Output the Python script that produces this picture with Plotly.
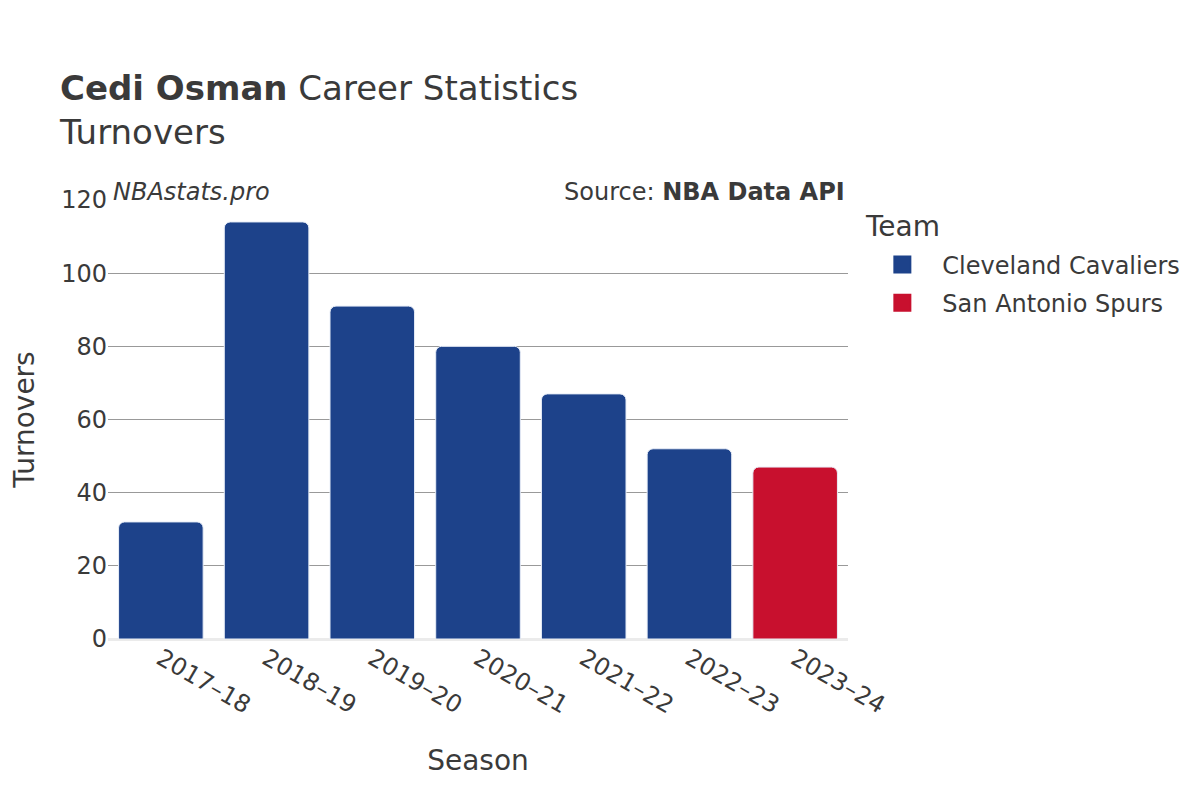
import plotly.graph_objects as go

seasons = ["2017–18", "2018–19", "2019–20", "2020–21", "2021–22", "2022–23", "2023–24"]
teams = ["Cleveland Cavaliers", "Cleveland Cavaliers", "Cleveland Cavaliers", "Cleveland Cavaliers",
         "Cleveland Cavaliers", "Cleveland Cavaliers", "San Antonio Spurs"]
turnovers = [32, 114, 91, 80, 67, 52, 47]
team_names = ["Cleveland Cavaliers", "San Antonio Spurs"]
team_colors = {"Cleveland Cavaliers": "#1D428A", "San Antonio Spurs": "#C8102E"}
y_ticks = [0, 20, 40, 60, 80, 100, 120]

fig = go.Figure()
for team in team_names:
    xs = [s for s, t in zip(seasons, teams) if t == team]
    ys = [v for v, t in zip(turnovers, teams) if t == team]
    fig.add_trace(go.Bar(
        x=xs, y=ys, name=team, showlegend=False, legendgroup=team,
        marker=dict(color=team_colors[team], line=dict(color="#E8EEF8", width=1)),
    ))
for team in team_names:
    fig.add_trace(go.Scatter(
        x=[None], y=[None], mode="markers", name=team, legendgroup=team,
        marker=dict(symbol="square", size=20, color=team_colors[team],
                    line=dict(color=team_colors[team], width=2)),
    ))

fig.update_layout(
    width=1200, height=800,
    barmode="overlay", bargap=0.2, barcornerradius=6,
    paper_bgcolor="white", plot_bgcolor="white",
    font=dict(family="DejaVu Sans", color="#3a3a3a", size=24),
    margin=dict(l=100, r=360, t=192, b=169, autoexpand=False),
    title=dict(
        text="<b>Cedi Osman</b> Career Statistics<br>Turnovers",
        x=52 / 1200, xanchor="left", y=0.885, yanchor="top",
        pad=dict(l=0, t=0),
        font=dict(size=34, color="#3a3a3a"),
    ),
    legend=dict(
        font=dict(size=24),
        x=1.0194, xanchor="left", y=0.9035, yanchor="top",
        itemsizing="trace", itemwidth=70, tracegroupgap=4,
    ),
    xaxis=dict(
        title=dict(text="Season", font=dict(size=28), standoff=31),
        categoryorder="array", categoryarray=seasons,
        tickangle=30, tickfont=dict(size=24),
        showgrid=False, ticks="", automargin=False,
    ),
    yaxis=dict(
        title=dict(text="Turnovers", font=dict(size=28), standoff=26),
        range=[0, 120], tickvals=y_ticks,
        tickfont=dict(size=24),
        showgrid=True, gridcolor="#999999", gridwidth=1,
        zeroline=True, zerolinecolor="#EBEBEB", zerolinewidth=3,
        ticks="", automargin=False,
    ),
    annotations=[
        dict(text="<i>NBAstats.pro</i>", xref="paper", yref="paper", x=0.0, y=1.0,
             xanchor="left", yanchor="bottom", showarrow=False, xshift=3, yshift=-8,
             font=dict(size=24, color="#3a3a3a")),
        dict(text="Source: <b>NBA Data API</b>", xref="paper", yref="paper", x=1.0, y=1.0,
             xanchor="right", yanchor="bottom", showarrow=False, xshift=-1, yshift=-8,
             font=dict(size=24, color="#3a3a3a")),
        dict(text="Team", xref="paper", yref="paper", x=1.0198, y=0.9385,
             xanchor="left", yanchor="middle", showarrow=False,
             font=dict(size=28, color="#3a3a3a")),
    ],
)

fig.write_html("out.html")
